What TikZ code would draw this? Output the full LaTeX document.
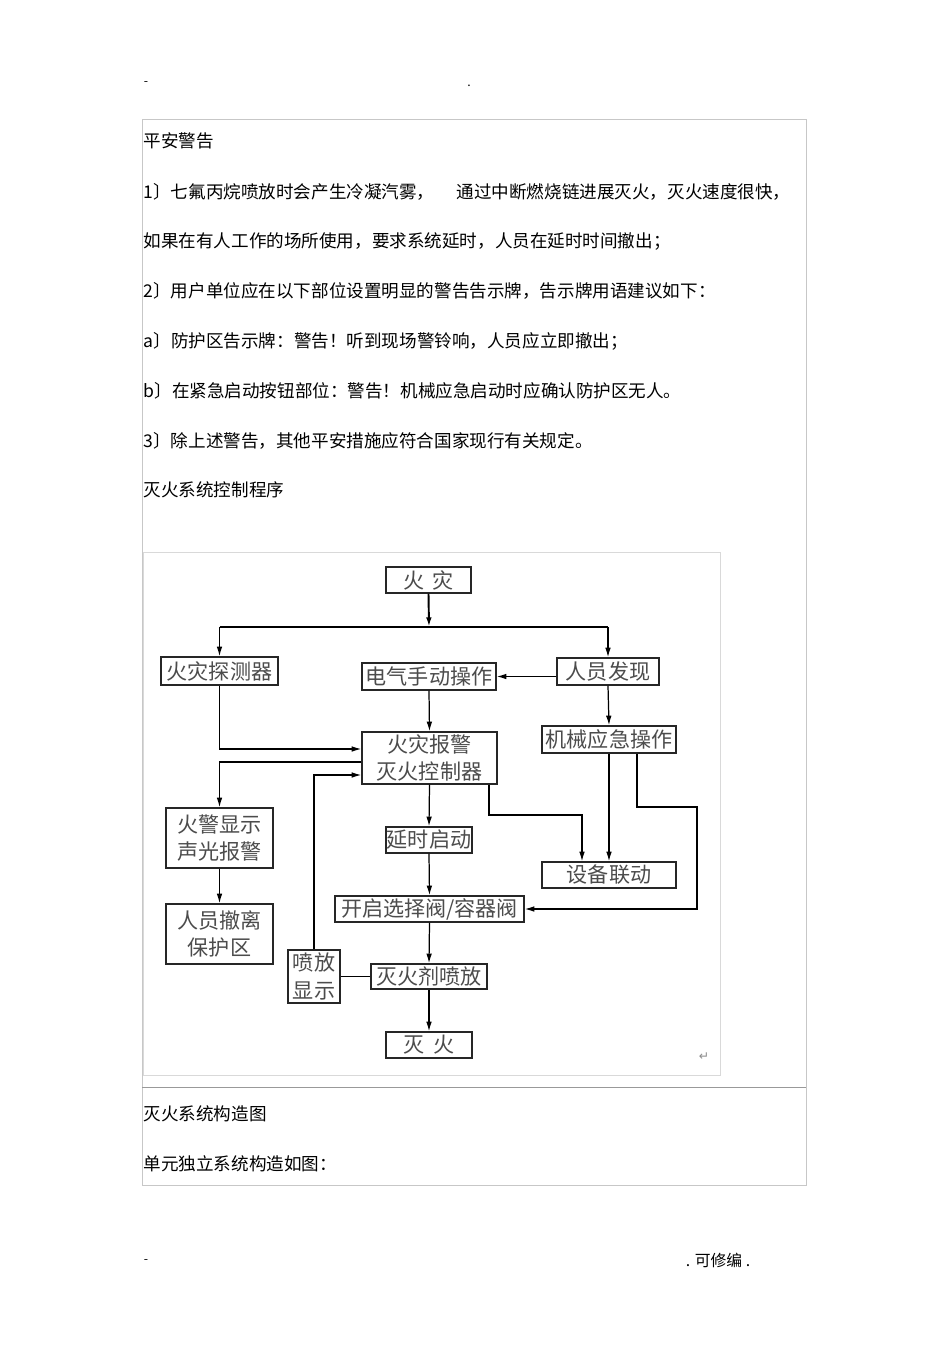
\documentclass[tikz,border=0pt]{standalone}
\usepackage{fontspec}
\setmainfont{Noto Sans CJK SC}
\newfontfamily\symfont{DejaVu Sans}
\usetikzlibrary{arrows.meta}

\begin{document}
\begin{tikzpicture}[x=0.02cm, y=-0.02cm, line width=0.7pt,
    box/.style={draw=black!85, line width=0.8pt, inner sep=0pt, align=center,
      text=black!70, font=\fontsize{12}{15.5}\selectfont},
    arrow/.style={-{Latex[length=5.5pt,width=3.2pt]}},
    txt/.style={anchor=west, inner sep=0pt, font=\fontsize{10}{12}\selectfont}]
  \useasboundingbox[fill=white] (0,0) rectangle (950,1345);

  % Page frame:
  \draw[black!22, line width=0.5pt] (142,119) rectangle (806,1185);
  \draw[black!40, line width=0.5pt] (142,1087) -- (806,1087);
  \draw[black!15, line width=0.5pt] (143,552) rectangle (720,1075);

  % Header and footer:
  \node[inner sep=0pt, font=\scriptsize] (hdash) at (146,84) {-};
  \node[inner sep=0pt, font=\scriptsize] (hdot) at (469,86) {.};
  \node[inner sep=0pt, font=\scriptsize] (fdash) at (146,1262) {-};
  \node[inner sep=0pt, font=\fontsize{9}{11}\selectfont] (fnote) at (718,1260) {. 可修编 .};

  % Text:
  \node[txt] (t1) at (143,141) {平安警告};
  \node[txt] (t2a) at (143,192) {1〕七氟丙烷喷放时会产生冷凝汽雾，};
  \node[txt] (t2b) at (456,192) {通过中断燃烧链进展灭火，灭火速度很快，};
  \node[txt] (t3) at (143,241) {如果在有人工作的场所使用，要求系统延时，人员在延时时间撤出；};
  \node[txt] (t4) at (143,291) {2〕用户单位应在以下部位设置明显的警告告示牌，告示牌用语建议如下：};
  \node[txt] (t5) at (143,341) {a〕防护区告示牌：警告！听到现场警铃响，人员应立即撤出；};
  \node[txt] (t6) at (143,391) {b〕在紧急启动按钮部位：警告！机械应急启动时应确认防护区无人。};
  \node[txt] (t7) at (143,441) {3〕除上述警告，其他平安措施应符合国家现行有关规定。};
  \node[txt] (t8) at (143,490) {灭火系统控制程序};
  \node[txt] (t9) at (143,1114) {灭火系统构造图};
  \node[txt] (t10) at (143,1164) {单元独立系统构造如图：};

  % Boxes:
  \node[box, minimum width=1.70cm, minimum height=0.52cm] (huozai) at (428.5,580) {火\hspace{0.4em}灾};
  \node[box, minimum width=2.34cm, minimum height=0.56cm] (tance) at (219.5,671) {火灾探测器};
  \node[box, minimum width=2.68cm, minimum height=0.54cm] (dianqi) at (429,676.5) {电气手动操作};
  \node[box, minimum width=2.04cm, minimum height=0.54cm] (faxian) at (608,671.5) {人员发现};
  \node[box, minimum width=2.70cm, minimum height=1.04cm] (kongzhi) at (429.5,758) {火灾报警\\灭火控制器};
  \node[box, minimum width=2.68cm, minimum height=0.54cm] (jixie) at (609,739.5) {机械应急操作};
  \node[box, minimum width=2.14cm, minimum height=1.20cm] (xianshi) at (219.5,838) {火警显示\\声光报警};
  \node[box, minimum width=1.72cm, minimum height=0.52cm] (yanshi) at (429,840) {延时启动};
  \node[box, minimum width=2.68cm, minimum height=0.52cm] (liandong) at (609,875) {设备联动};
  \node[box, minimum width=3.78cm, minimum height=0.52cm] (famen) at (429.5,909) {开启选择阀/容器阀};
  \node[box, minimum width=2.14cm, minimum height=1.20cm] (cheli) at (219.5,934) {人员撤离\\保护区};
  \node[box, minimum width=1.04cm, minimum height=1.06cm] (penxs) at (314,976.5) {喷放\\显示};
  \node[box, minimum width=2.32cm, minimum height=0.50cm] (penfang) at (429,976.5) {灭火剂喷放};
  \node[box, minimum width=1.72cm, minimum height=0.52cm] (miehuo) at (429,1045) {灭\hspace{0.4em}火};

  % Fire to the bus:
  \coordinate (bus) at (429,627);
  \draw[arrow, line width=1.1pt] (huozai.south) -- (bus);
  \draw[line width=1.1pt] (tance.north |- bus) -- (faxian.north |- bus);
  \draw[arrow] (tance.north |- bus) -- (tance.north);
  \draw[arrow] (faxian.north |- bus) -- (faxian.north);

  % Detection and manual start:
  \draw[arrow] (faxian.west |- dianqi.east) -- (dianqi.east);
  \draw[arrow] (dianqi.south) -- (kongzhi.north);
  \draw[arrow] (tance.south) |- (kongzhi.west |- 0,749);
  \draw[arrow] (faxian.south) -- (jixie.north);

  % Controller outputs:
  \draw[arrow] (kongzhi.west |- 0,762) -| (xianshi.north);
  \draw[arrow] (xianshi.south) -- (cheli.north);
  \draw[arrow] (kongzhi.south) -- (yanshi.north);
  \draw[arrow] (kongzhi.south -| 489,0) -- (489,815) -| (liandong.north -| 582,0);

  % Mechanical start:
  \draw[arrow] (jixie.south) -- (liandong.north);
  \draw[arrow] (jixie.south -| 637,0) -- (637,807) -- (697,807) |- (famen.east);

  % Release chain:
  \draw[arrow] (yanshi.south) -- (famen.north);
  \draw[arrow] (famen.south) -- (penfang.north);
  \draw[arrow] (penfang.south) -- (miehuo.north);
  \draw (penxs.east) -- (penfang.west);
  \draw[arrow] (penxs.north) |- (kongzhi.west |- 0,775);

  % Paragraph mark:
  \node[inner sep=0pt, text=black!45, font=\symfont\fontsize{7}{8}\selectfont] (pmark) at (704,1057) {↵};
\end{tikzpicture}
\end{document}
